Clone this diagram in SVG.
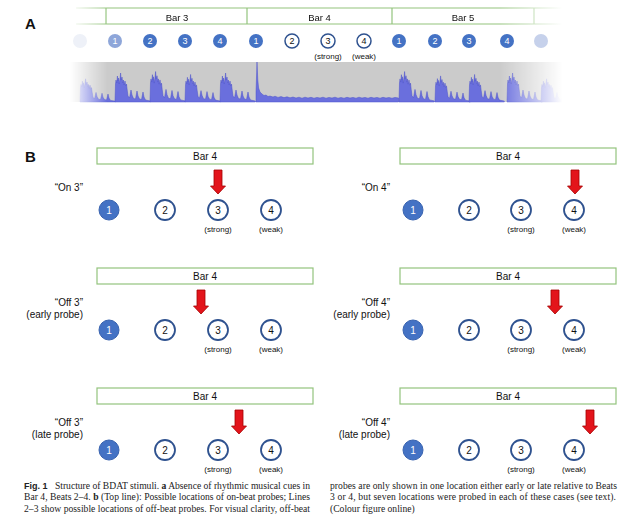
<svg xmlns="http://www.w3.org/2000/svg" xmlns:xlink="http://www.w3.org/1999/xlink" width="644" height="527" viewBox="0 0 644 527">
<style>
.lbl{font-family:"Liberation Sans",Arial,sans-serif;font-size:10px;fill:#111}
.big{font-family:"Liberation Sans",Arial,sans-serif;font-size:15px;font-weight:bold;fill:#111}
.bar{fill:#fff;stroke:#93C47D;stroke-width:1.2}
.barA{fill:none;stroke:#93C47D;stroke-width:1.2}
.bt{font-family:"Liberation Sans",Arial,sans-serif;font-size:10px;fill:#111;text-anchor:middle}
.btA{font-family:"Liberation Sans",Arial,sans-serif;font-size:9.5px;fill:#111;text-anchor:middle}
.cf{fill:#4472C4;stroke:#3A64B0;stroke-width:1}
.co{fill:#fff;stroke:#2F528F;stroke-width:1.8}
.cfA{fill:#4472C4}
.coA{fill:#fff;stroke:#2F528F;stroke-width:1.5}
.nw{font-family:"Liberation Sans",Arial,sans-serif;font-size:10px;fill:#fff;text-anchor:middle}
.nb{font-family:"Liberation Sans",Arial,sans-serif;font-size:10px;fill:#111;text-anchor:middle}
.nwA{font-family:"Liberation Sans",Arial,sans-serif;font-size:9px;fill:#fff;text-anchor:middle}
.nbA{font-family:"Liberation Sans",Arial,sans-serif;font-size:9px;fill:#111;text-anchor:middle}
.sm{font-family:"Liberation Sans",Arial,sans-serif;font-size:8px;fill:#111;text-anchor:middle}
.r{text-anchor:end}
.arr{fill:#E3141B;stroke:#A40000;stroke-width:0.8}
.cap{font-family:"Liberation Serif","Times New Roman",serif;font-size:9.6px;fill:#222}
.wave{fill:#6A6FDD;stroke:#4A50CC;stroke-width:0.5}
</style>
<defs>
<linearGradient id="fadeGrad" gradientUnits="userSpaceOnUse" x1="70" y1="0" x2="570" y2="0">
<stop offset="0" stop-color="#000"/>
<stop offset="0.075" stop-color="#fff"/>
<stop offset="0.86" stop-color="#fff"/>
<stop offset="0.985" stop-color="#000"/>
</linearGradient>
<mask id="fadeA" maskUnits="userSpaceOnUse" x="0" y="0" width="644" height="110">
<rect x="0" y="0" width="644" height="110" fill="url(#fadeGrad)"/>
</mask>
<path id="beat" class="wave" d="M0,0 L0,-1 L0.5,-18 L1,-22 L1.8,-19 L2.4,-26 L3,-21 L3.6,-24 L4.2,-18 L5,-23 L5.6,-29 L6.2,-22 L7,-25 L7.8,-19 L8.4,-22 L9.2,-17 L10,-21 L10.8,-16 L11.5,-18 L12.2,-12 L13,-6 L14.5,-4 L16,-12 L17,-7 L18.5,-3.5 L20.5,-3 L22,-11 L23,-6 L24.5,-3 L26.5,-2.5 L28,-10 L29,-5 L30.5,-2 L33,-1.5 L35.3,-1 L35.3,0 Z"/>
<path id="arrow" class="arr" d="M-4,0 L4,0 L4,16 L7.5,16 L0,24 L-7.5,16 L-4,16 Z"/>
</defs>

<text class="big" x="25" y="29">A</text>

<g id="panelA">
<g id="barsA" mask="url(#fadeA)">
<line class="barA" x1="76" y1="8" x2="564" y2="8"/>
<line class="barA" x1="76" y1="24" x2="564" y2="24"/>
<line class="barA" x1="106" y1="8" x2="106" y2="24"/>
<line class="barA" x1="247" y1="8" x2="247" y2="24"/>
<line class="barA" x1="392" y1="8" x2="392" y2="24"/>
<line class="barA" x1="534" y1="8" x2="534" y2="24"/>
<text class="btA" x="177" y="20.5">Bar 3</text>
<text class="btA" x="319.5" y="20.5">Bar 4</text>
<text class="btA" x="463" y="20.5">Bar 5</text>
</g>
<g id="beatsA">
<circle cx="80" cy="41" r="7" fill="#EEF1F8"/>
<circle cx="115" cy="41" r="7" fill="#8EA6D9"/><text class="nwA" x="115" y="44.2">1</text>
<circle class="cfA" cx="150" cy="41" r="7"/><text class="nwA" x="150" y="44.2">2</text>
<circle class="cfA" cx="185" cy="41" r="7"/><text class="nwA" x="185" y="44.2">3</text>
<circle class="cfA" cx="220" cy="41" r="7"/><text class="nwA" x="220" y="44.2">4</text>
<circle class="cfA" cx="256" cy="41" r="7"/><text class="nwA" x="256" y="44.2">1</text>
<circle class="coA" cx="292" cy="41" r="7"/><text class="nbA" x="292" y="44.2">2</text>
<circle class="coA" cx="328" cy="41" r="7"/><text class="nbA" x="328" y="44.2">3</text>
<circle class="coA" cx="364" cy="41" r="7"/><text class="nbA" x="364" y="44.2">4</text>
<text class="sm" x="328" y="58.5">(strong)</text>
<text class="sm" x="364" y="58.5">(weak)</text>
<circle class="cfA" cx="399" cy="41" r="7"/><text class="nwA" x="399" y="44.2">1</text>
<circle class="cfA" cx="435" cy="41" r="7"/><text class="nwA" x="435" y="44.2">2</text>
<circle class="cfA" cx="469" cy="41" r="7"/><text class="nwA" x="469" y="44.2">3</text>
<circle class="cfA" cx="507" cy="41" r="7"/><text class="nwA" x="507" y="44.2">4</text>
<circle cx="541" cy="41" r="7" fill="#C6D1EB"/>
</g>
<g id="waveform" mask="url(#fadeA)">
<rect x="68" y="62" width="504" height="40" fill="#CBCBCB"/>
<use xlink:href="#beat" transform="translate(80,102) scale(1,0.8)"/>
<use xlink:href="#beat" transform="translate(115,102) scale(1,1)"/>
<use xlink:href="#beat" transform="translate(150,102) scale(1,1.05)"/>
<use xlink:href="#beat" transform="translate(185,102) scale(1,0.95)"/>
<use xlink:href="#beat" transform="translate(220,102) scale(1,1)"/>
<path class="wave" d="M256,102 L256,92 L257,62 L257.8,80 L258.6,88 L260,92 L262,94 L264,95.5 L266,95 L268,96.5 L270,96 L273,97 L275,96.2 L278,97.4 L281,96.6 L284,97.6 L287,96.8 L290,97.8 L293,97 L296,98 L299,97.2 L302,98.2 L305,97.2 L308,98 L311,97.3 L314,98.2 L317,97.4 L320,98 L323,97.2 L326,98.2 L329,97.4 L332,98 L335,97.2 L338,98.2 L341,97.5 L344,98.2 L347,97.3 L350,98 L353,97.4 L356,98.2 L359,97.2 L362,98 L365,97.4 L368,98.2 L371,97.3 L374,98 L377,97.4 L380,98.2 L383,97.3 L386,98 L389,97.5 L392,98.2 L395,97.4 L398.5,98 L398.5,102 Z"/>
<use xlink:href="#beat" transform="translate(399,102) scale(1,1.05)"/>
<use xlink:href="#beat" transform="translate(435,102) scale(1,0.9)"/>
<use xlink:href="#beat" transform="translate(469,102) scale(1,0.95)"/>
<use xlink:href="#beat" transform="translate(507,102) scale(1,1)"/>
<use xlink:href="#beat" transform="translate(541,102) scale(1,0.8)"/>
</g>
</g>

<text class="big" x="25" y="162">B</text>

<g id="on3">
<rect class="bar" x="97" y="148" width="216" height="16"/>
<text class="bt" x="205" y="159.5">Bar 4</text>
<text class="lbl r" x="83" y="191">“On 3”</text>
<circle class="cf" cx="109" cy="210" r="10"/><text class="nw" x="109" y="213.6">1</text>
<circle class="co" cx="165" cy="210" r="10"/><text class="nb" x="165" y="213.6">2</text>
<circle class="co" cx="218" cy="210" r="10"/><text class="nb" x="218" y="213.6">3</text>
<circle class="co" cx="271" cy="210" r="10"/><text class="nb" x="271" y="213.6">4</text>
<text class="sm" x="218" y="231.5">(strong)</text>
<text class="sm" x="271" y="231.5">(weak)</text>
</g>
<g id="on4">
<rect class="bar" x="400" y="148" width="216" height="16"/>
<text class="bt" x="508" y="159.5">Bar 4</text>
<text class="lbl r" x="390" y="191">“On 4”</text>
<circle class="cf" cx="413" cy="210" r="10"/><text class="nw" x="413" y="213.6">1</text>
<circle class="co" cx="469" cy="210" r="10"/><text class="nb" x="469" y="213.6">2</text>
<circle class="co" cx="521" cy="210" r="10"/><text class="nb" x="521" y="213.6">3</text>
<circle class="co" cx="574" cy="210" r="10"/><text class="nb" x="574" y="213.6">4</text>
<text class="sm" x="521" y="231.5">(strong)</text>
<text class="sm" x="574" y="231.5">(weak)</text>
</g>
<g id="off3early">
<rect class="bar" x="97" y="268" width="216" height="16"/>
<text class="bt" x="205" y="279.5">Bar 4</text>
<text class="lbl r" x="83" y="306">“Off 3”</text>
<text class="lbl r" x="83" y="318">(early probe)</text>
<circle class="cf" cx="109" cy="330" r="10"/><text class="nw" x="109" y="333.6">1</text>
<circle class="co" cx="165" cy="330" r="10"/><text class="nb" x="165" y="333.6">2</text>
<circle class="co" cx="218" cy="330" r="10"/><text class="nb" x="218" y="333.6">3</text>
<circle class="co" cx="271" cy="330" r="10"/><text class="nb" x="271" y="333.6">4</text>
<text class="sm" x="218" y="351.5">(strong)</text>
<text class="sm" x="271" y="351.5">(weak)</text>
</g>
<g id="off4early">
<rect class="bar" x="400" y="268" width="216" height="16"/>
<text class="bt" x="508" y="279.5">Bar 4</text>
<text class="lbl r" x="390" y="306">“Off 4”</text>
<text class="lbl r" x="390" y="318">(early probe)</text>
<circle class="cf" cx="413" cy="330" r="10"/><text class="nw" x="413" y="333.6">1</text>
<circle class="co" cx="469" cy="330" r="10"/><text class="nb" x="469" y="333.6">2</text>
<circle class="co" cx="521" cy="330" r="10"/><text class="nb" x="521" y="333.6">3</text>
<circle class="co" cx="574" cy="330" r="10"/><text class="nb" x="574" y="333.6">4</text>
<text class="sm" x="521" y="351.5">(strong)</text>
<text class="sm" x="574" y="351.5">(weak)</text>
</g>
<g id="off3late">
<rect class="bar" x="97" y="388" width="216" height="16"/>
<text class="bt" x="205" y="399.5">Bar 4</text>
<text class="lbl r" x="83" y="426">“Off 3”</text>
<text class="lbl r" x="83" y="438">(late probe)</text>
<circle class="cf" cx="109" cy="450" r="10"/><text class="nw" x="109" y="453.6">1</text>
<circle class="co" cx="165" cy="450" r="10"/><text class="nb" x="165" y="453.6">2</text>
<circle class="co" cx="218" cy="450" r="10"/><text class="nb" x="218" y="453.6">3</text>
<circle class="co" cx="271" cy="450" r="10"/><text class="nb" x="271" y="453.6">4</text>
<text class="sm" x="218" y="471.5">(strong)</text>
<text class="sm" x="271" y="471.5">(weak)</text>
</g>
<g id="off4late">
<rect class="bar" x="400" y="388" width="216" height="16"/>
<text class="bt" x="508" y="399.5">Bar 4</text>
<text class="lbl r" x="390" y="426">“Off 4”</text>
<text class="lbl r" x="390" y="438">(late probe)</text>
<circle class="cf" cx="413" cy="450" r="10"/><text class="nw" x="413" y="453.6">1</text>
<circle class="co" cx="469" cy="450" r="10"/><text class="nb" x="469" y="453.6">2</text>
<circle class="co" cx="521" cy="450" r="10"/><text class="nb" x="521" y="453.6">3</text>
<circle class="co" cx="574" cy="450" r="10"/><text class="nb" x="574" y="453.6">4</text>
<text class="sm" x="521" y="471.5">(strong)</text>
<text class="sm" x="574" y="471.5">(weak)</text>
</g>

<g id="connectors">
<use xlink:href="#arrow" x="218" y="170"/>
<use xlink:href="#arrow" x="575" y="170"/>
<use xlink:href="#arrow" x="201" y="290"/>
<use xlink:href="#arrow" x="555" y="290"/>
<use xlink:href="#arrow" x="239" y="410"/>
<use xlink:href="#arrow" x="590" y="410"/>
</g>

<g id="caption">
<text class="cap" x="24" y="488.5" textLength="286" lengthAdjust="spacing"><tspan font-family="Liberation Sans, Arial, sans-serif" font-weight="bold" font-size="9px">Fig. 1</tspan><tspan dx="5"> Structure of BDAT stimuli. </tspan><tspan font-weight="bold">a</tspan> Absence of rhythmic musical cues in</text>
<text class="cap" x="24" y="500" textLength="286" lengthAdjust="spacing">Bar 4, Beats 2–4. <tspan font-weight="bold">b</tspan> (Top line): Possible locations of on-beat probes; Lines</text>
<text class="cap" x="24" y="511.5" textLength="286" lengthAdjust="spacing">2–3 show possible locations of off-beat probes. For visual clarity, off-beat</text>
<text class="cap" x="330" y="488.5" textLength="287" lengthAdjust="spacing">probes are only shown in one location either early or late relative to Beats</text>
<text class="cap" x="330" y="500" textLength="286" lengthAdjust="spacing">3 or 4, but seven locations were probed in each of these cases (see text).</text>
<text class="cap" x="330" y="511.5">(Colour figure online)</text>
</g>
</svg>
